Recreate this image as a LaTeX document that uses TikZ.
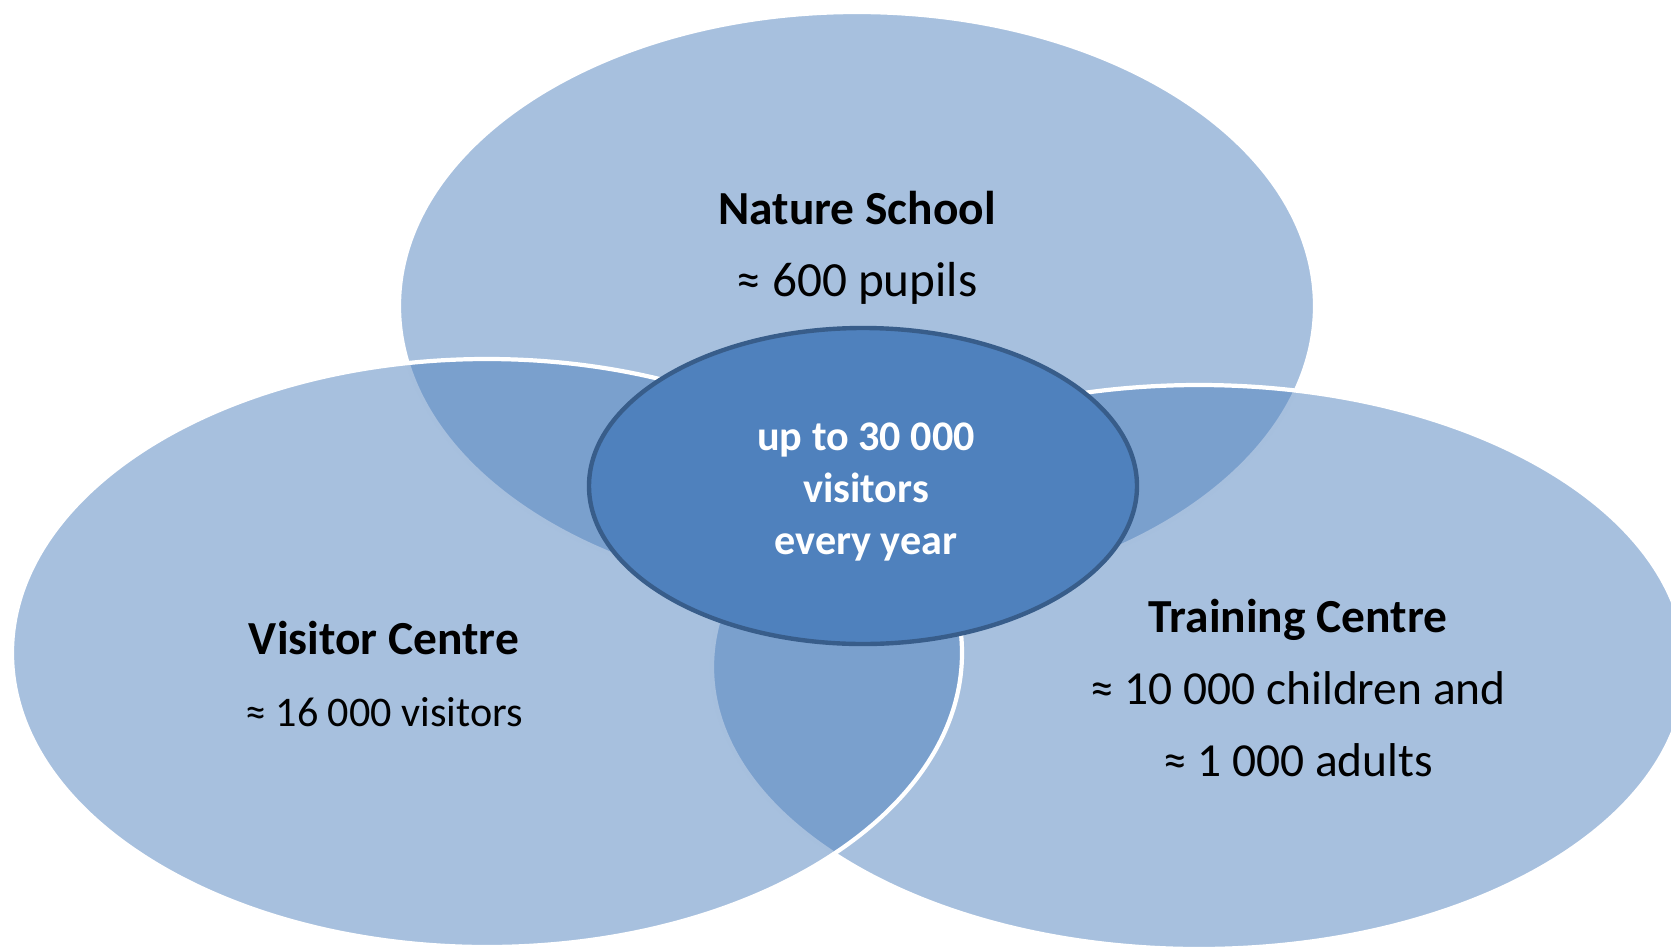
\documentclass[tikz,border=0pt]{standalone}
\usepackage{fontspec}
\setmainfont{Carlito}
\usepackage{tikz}
\usetikzlibrary{positioning}

\definecolor{vennblue}{HTML}{4F81BD}
\definecolor{vennedge}{HTML}{385D8A}

\begin{document}
\begin{tikzpicture}[x=0.02cm, y=-0.02cm,
    venn/.style={fill=vennblue, fill opacity=0.5, draw=white, line width=2.4pt},
    hub/.style={fill=vennblue, draw=vennedge, line width=2.5pt},
    label/.style={align=center, text=black, font=\fontsize{27pt}{41pt}\selectfont},
    hubtext/.style={align=center, text=white, font=\bfseries\fontsize{24pt}{29.5pt}\selectfont}]
    \useasboundingbox (0,0) rectangle (1671,947);
    % three circles, back to front
    \path [venn] (857,306) ellipse [x radius=458, y radius=294];
    \path [venn] (1199,667) ellipse [x radius=487, y radius=282];
    \path [venn] (487,653) ellipse [x radius=475, y radius=294];
    % middle
    \path [hub] (863,486) ellipse [x radius=274, y radius=158];
    \node [hubtext] (total) at (866,492) {up to 30 000\\visitors\\every year};
    % labels
    \node [label] (nature) at (857,248) {\textbf{Nature School}\\{\fontsize{28pt}{41pt}\selectfont ≈ 600 pupils}};
    \node [label] (visitor) at (384,674) {\textbf{Visitor Centre}\\{\fontsize{24pt}{41pt}\selectfont ≈ 16 000 visitors}};
    \node [label] (training) at (1298,688) {\textbf{Training Centre}\\≈ 10 000 children and\\≈ 1 000 adults};
\end{tikzpicture}
\end{document}
